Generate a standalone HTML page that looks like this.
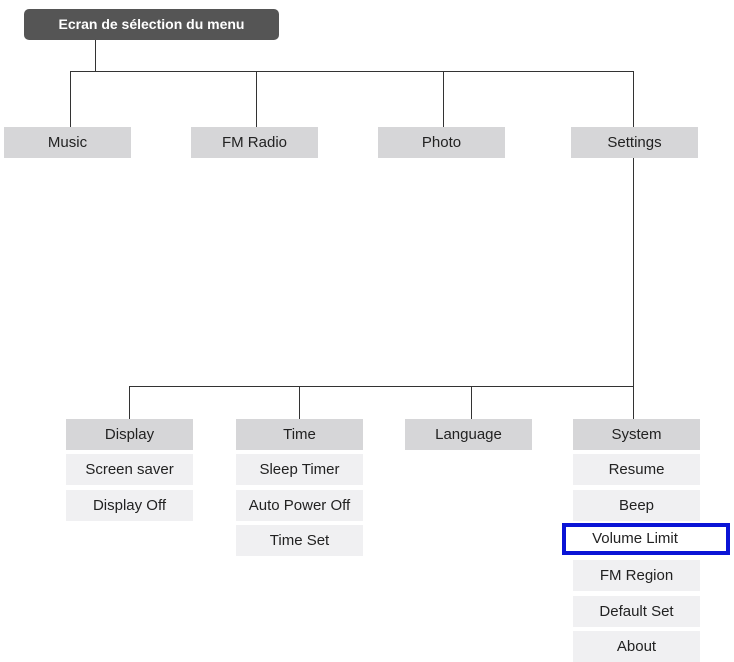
<!DOCTYPE html>
<html><head><meta charset="utf-8"><style>
body{margin:0;width:734px;height:662px;background:#fff;position:relative;overflow:hidden;font-family:"Liberation Sans",Arial,sans-serif;}
.b{position:absolute;width:127px;height:31px;line-height:31px;text-align:center;font-size:15px;color:#222;}
.h{background:#d6d6d8;}
.i{background:#f0f0f2;}
.l{position:absolute;background:#333;}
</style></head><body>
<div style="position:absolute;left:24px;top:9px;width:255px;height:31px;background:#555;border-radius:5px;color:#fff;font-weight:bold;font-size:14px;line-height:31px;text-align:center;">Ecran de sélection du menu</div>
<div class="l" style="left:95px;top:40px;width:1px;height:31px"></div>
<div class="l" style="left:70px;top:71px;width:564px;height:1px"></div>
<div class="l" style="left:70px;top:71px;width:1px;height:56px"></div>
<div class="l" style="left:256px;top:71px;width:1px;height:56px"></div>
<div class="l" style="left:443px;top:71px;width:1px;height:56px"></div>
<div class="l" style="left:633px;top:71px;width:1px;height:56px"></div>
<div class="b h" style="left:4px;top:127px">Music</div>
<div class="b h" style="left:191px;top:127px">FM Radio</div>
<div class="b h" style="left:378px;top:127px">Photo</div>
<div class="b h" style="left:571px;top:127px">Settings</div>
<div class="l" style="left:633px;top:158px;width:1px;height:261px"></div>
<div class="l" style="left:129px;top:386px;width:505px;height:1px"></div>
<div class="l" style="left:129px;top:386px;width:1px;height:33px"></div>
<div class="l" style="left:299px;top:386px;width:1px;height:33px"></div>
<div class="l" style="left:471px;top:386px;width:1px;height:33px"></div>
<div class="b h" style="left:66px;top:419px">Display</div>
<div class="b i" style="left:66px;top:454px">Screen saver</div>
<div class="b i" style="left:66px;top:490px">Display Off</div>
<div class="b h" style="left:236px;top:419px">Time</div>
<div class="b i" style="left:236px;top:454px">Sleep Timer</div>
<div class="b i" style="left:236px;top:490px">Auto Power Off</div>
<div class="b i" style="left:236px;top:525px">Time Set</div>
<div class="b h" style="left:405px;top:419px">Language</div>
<div class="b h" style="left:573px;top:419px">System</div>
<div class="b i" style="left:573px;top:454px">Resume</div>
<div class="b i" style="left:573px;top:490px">Beep</div>
<div class="b" style="left:562px;top:523px;width:138px;padding-right:22px;height:24px;line-height:24px;border:4px solid #0a14d6;background:#fff;">Volume Limit</div>
<div class="b i" style="left:573px;top:560px">FM Region</div>
<div class="b i" style="left:573px;top:596px">Default Set</div>
<div class="b i" style="left:573px;top:631px">About</div>
</body></html>
